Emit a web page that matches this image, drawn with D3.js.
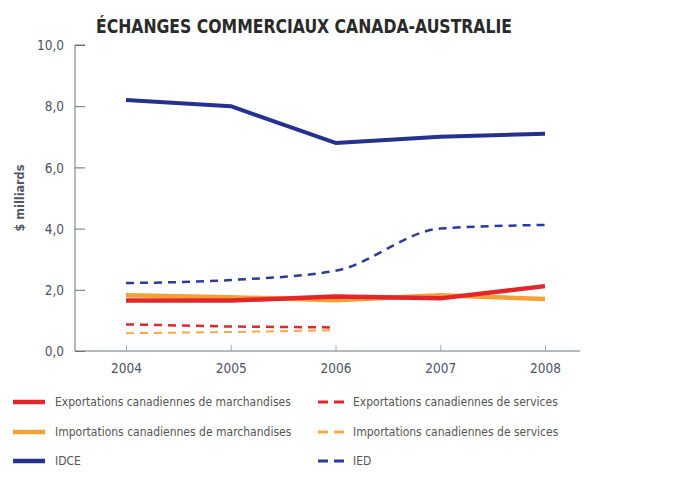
<!DOCTYPE html>
<html><head><meta charset="utf-8">
<script src="https://cdn.jsdelivr.net/npm/d3@7"></script>
<style>
body{margin:0;background:#fff;}
text{font-family:"Liberation Sans Narrow","DejaVu Sans Condensed","Roboto Condensed",sans-serif;}
</style></head>
<body><svg id="c" width="675" height="483"></svg>
<script>
const years = [2004, 2005, 2006, 2007, 2008];
const yTicks = [0, 2, 4, 6, 8, 10];
const exportsMerch = [1.65, 1.65, 1.78, 1.72, 2.12];
const importsMerch = [1.82, 1.76, 1.66, 1.82, 1.70];
const exportsServ = [0.87, 0.80, 0.77];
const importsServ = [0.58, 0.62, 0.68];
const idce = [8.2, 8.0, 6.8, 7.0, 7.1];
const ied = [2.22, 2.32, 2.62, 4.0, 4.12];
const title = "ÉCHANGES COMMERCIAUX CANADA-AUSTRALIE";
const yLabel = "$ milliards";

const series = [
  {name:"Exportations canadiennes de marchandises", values:exportsMerch, color:"#e3262a", width:4.5, dash:null, col:0, row:0},
  {name:"Importations canadiennes de marchandises", values:importsMerch, color:"#f4a037", width:4.5, dash:null, col:0, row:1},
  {name:"IDCE", values:idce, color:"#24318f", width:4, dash:null, col:0, row:2},
  {name:"Exportations canadiennes de services", values:exportsServ, color:"#e3262a", width:2.5, dash:"8,6", col:1, row:0},
  {name:"Importations canadiennes de services", values:importsServ, color:"#f6a94a", width:2, dash:"8,6", col:1, row:1},
  {name:"IED", values:ied, color:"#2a3b9c", width:2.5, dash:"8,6", col:1, row:2, curve:true}
];

const svg = d3.select("#c");
const x = d3.scaleLinear().domain([2004, 2008]).range([126, 545]);
const y = d3.scaleLinear().domain([0, 10]).range([351, 45]);
const axisColor = "#6b6f86";

svg.append("text").attr("x", 304).attr("y", 33).attr("text-anchor", "middle")
  .attr("font-size", 19).attr("font-weight", "bold").attr("fill", "#2a2a2a")
  .attr("textLength", 416).attr("lengthAdjust", "spacingAndGlyphs").text(title);

const yAxis = d3.axisRight(y).tickValues(yTicks).tickSize(10).tickFormat(d => d3.format(".1f")(d).replace(".", ","));
const ga = svg.append("g").attr("transform", "translate(75,0)").call(yAxis);
ga.select(".domain").attr("stroke", axisColor).attr("d", "M10,45H0V351");
ga.selectAll(".tick line").attr("stroke", axisColor);
ga.selectAll(".tick text").attr("x", -11).attr("text-anchor", "end").attr("dy", "0.35em")
  .attr("font-size", 13.5).attr("fill", "#4e5163");

const xAxis = d3.axisTop(x).tickValues(years).tickSize(6).tickFormat(d3.format("d"));
const gx = svg.append("g").attr("transform", "translate(0,351)").call(xAxis);
gx.select(".domain").attr("stroke", axisColor).attr("d", "M75,0H580");
gx.selectAll(".tick line").attr("stroke", "#aab");
gx.selectAll(".tick text").attr("y", 22).attr("dy", "0").attr("font-size", 13.5).attr("fill", "#4e5163");

svg.append("text").attr("transform", "translate(24,198) rotate(-90)").attr("text-anchor", "middle")
  .attr("font-size", 12.5).attr("font-weight", "bold").attr("fill", "#55586a").text(yLabel);

const order = [5, 3, 4, 1, 0, 2];
order.forEach(i => {
  const s = series[i];
  const line = d3.line().x((d, j) => x(years[j])).y(d => y(d));
  if (s.curve) line.curve(d3.curveMonotoneX);
  svg.append("path").attr("d", line(s.values)).attr("fill", "none")
    .attr("stroke", s.color).attr("stroke-width", s.width)
    .attr("stroke-dasharray", s.dash).attr("stroke-linejoin", "round");
});

const rowsY = [402, 432, 461];
const colX = [{sw:13, tx:55, len:32}, {sw:318, tx:353, len:28}];
series.forEach(s => {
  const c = colX[s.col], yy = rowsY[s.row];
  svg.append("line").attr("x1", c.sw).attr("x2", c.sw + c.len).attr("y1", yy).attr("y2", yy)
    .attr("stroke", s.color).attr("stroke-width", s.dash ? 3 : 4.5)
    .attr("stroke-dasharray", s.dash ? "10,6" : null);
  svg.append("text").attr("x", c.tx).attr("y", yy).attr("dy", "0.35em")
    .attr("font-size", 12).attr("fill", "#555").text(s.name);
});
</script></body></html>
